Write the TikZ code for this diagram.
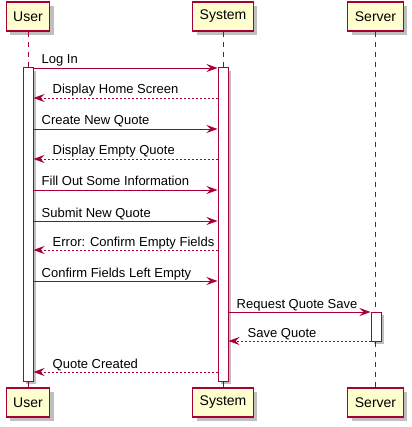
\documentclass[tikz,border=0pt]{standalone}
\usepackage{fontspec}
\setmainfont{Liberation Sans}
\usetikzlibrary{arrows.meta,shadows}
\definecolor{seq_line}{HTML}{A80036}
\definecolor{seq_box}{HTML}{FEFECE}

\begin{document}
\begin{tikzpicture}[x=1pt, y=-1pt,
  actor/.style={draw=seq_line, fill=seq_box, line width=1.2pt, minimum height=29pt, inner xsep=7pt, inner ysep=0pt,
    font=\fontsize{14}{16}\selectfont,
    drop shadow={shadow xshift=4pt, shadow yshift=-4pt, fill=black, opacity=0.25}},
  actbar/.style={draw=seq_line, fill=white, line width=1pt, minimum width=10pt, inner sep=0pt,
    drop shadow={shadow xshift=3pt, shadow yshift=-3pt, fill=black, opacity=0.25}},
  msg/.style={seq_line, line width=0.8pt, -{Stealth[length=11pt, width=8pt, inset=4pt]}},
  ret/.style={msg, dash pattern=on 2pt off 2pt},
  lbl/.style={font=\fontsize{13}{15}\selectfont, anchor=base west, inner sep=0pt}]
\useasboundingbox (0,0) rectangle (411,427);

% participants
\node[actor] (uTop) at (28,16.5) {User};
\node[actor] (sTop) at (223,16.5) {System};
\node[actor] (vTop) at (375.5,16.5) {Server};
\node[actor] (uBot) at (28,402.5) {User};
\node[actor] (sBot) at (223,402.5) {System};
\node[actor] (vBot) at (375.5,402.5) {Server};

\foreach \p in {u,s,v}
  \draw[seq_line, line width=0.8pt, dash pattern=on 5pt off 5pt] (\p Top) -- (\p Bot);

% activations
\node[actbar, minimum height=313pt] (uBar) at (28,224.5) {};
\node[actbar, minimum height=313pt] (sBar) at (223,224.5) {};
\node[actbar, minimum height=29pt] (vBar) at (376,326.5) {};

% messages
\foreach \y/\txt in {68/Log In, 129/Create New Quote, 190/Fill Out Some Information,
                     221/Submit New Quote, 281/Confirm Fields Left Empty} {
  \draw[msg] (uBar.east |- 0,\y) -- (sBar.west |- 0,\y);
  \path (uBar.east |- 0,\y) +(8,-4) node[lbl] {\txt};
}
\foreach \y/\txt in {98/Display Home Screen, 159/Display Empty Quote,
                     250/Error: Confirm Empty Fields, 372/Quote Created} {
  \draw[ret] (sBar.west |- 0,\y) -- (uBar.east |- 0,\y);
  \path (uBar.east |- 0,\y) +(19,-4) node[lbl] {\txt};
}

\draw[msg] (sBar.east |- 0,312) -- (vBar.west |- 0,312);
\path (sBar.east |- 0,312) +(8,-4) node[lbl] {Request Quote Save};
\draw[ret] (vBar.west |- 0,341) -- (sBar.east |- 0,341);
\path (sBar.east |- 0,341) +(19,-4) node[lbl] {Save Quote};

\end{tikzpicture}
\end{document}
